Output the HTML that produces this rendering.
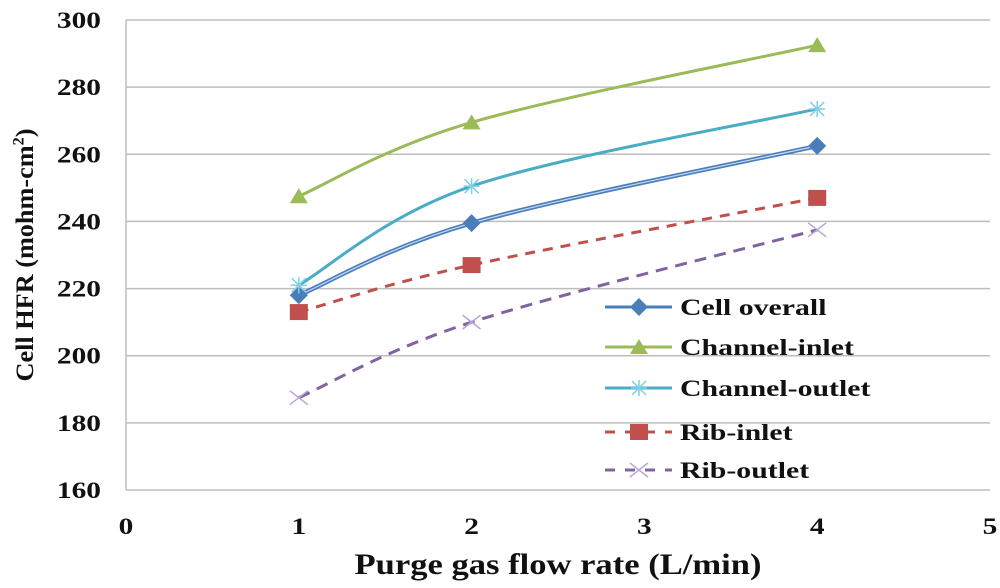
<!DOCTYPE html>
<html><head><meta charset="utf-8"><style>
html,body{margin:0;padding:0;background:#fff;}
svg text{font-family:"Liberation Serif",serif;font-weight:bold;fill:#111;}
</style></head><body>
<svg id="chart" width="1000" height="583" viewBox="0 0 1000 583" xmlns="http://www.w3.org/2000/svg">
<g id="grid"></g><g id="axes"></g><g id="series"></g><g id="legend"></g>
<text transform="translate(558,574) scale(1.28,1.1)" text-anchor="middle" font-size="27">Purge gas flow rate (L/min)</text>
<text transform="translate(33,255) rotate(-90) scale(1.25,1.2)" text-anchor="middle" font-size="21">Cell HFR (mohm-cm<tspan font-size="13" dy="-8">2</tspan><tspan dy="8">)</tspan></text>
</svg>
<script>
const xs=[1,2,4];
const cellOverall=[218,239.5,262.5];
const channelInlet=[247.5,269.5,292.5];
const channelOutlet=[221,250.5,273.5];
const ribInlet=[213,227,247];
const ribOutlet=[187.5,210,237.5];
const yTicks=[160,180,200,220,240,260,280,300];
const xTicks=[0,1,2,3,4,5];
const seriesNames=["Cell overall","Channel-inlet","Channel-outlet","Rib-inlet","Rib-outlet"];

const NS="http://www.w3.org/2000/svg";
const X=v=>126+(v-0)*(990-126)/5;
const Y=v=>490-(v-160)*(490-20)/140;
function mk(tag,attrs,parent){const e=document.createElementNS(NS,tag);for(const k in attrs)e.setAttribute(k,attrs[k]);parent.appendChild(e);return e;}
const grid=document.getElementById('grid'),axes=document.getElementById('axes'),ser=document.getElementById('series'),leg=document.getElementById('legend');
yTicks.forEach(t=>{
 const l=mk('line',{x1:X(0),x2:X(5),y1:Y(t),y2:Y(t),stroke:'#bdbdbd','stroke-width':1.5},grid);
 
 
 const tx=mk('text',{transform:`translate(101,${Y(t)+8}) scale(1.4,1.1)`,'text-anchor':'end','font-size':21},axes);tx.textContent=t;
 
 
});
const ax=mk('line',{x1:X(0),x2:X(0),y1:Y(300),y2:Y(160),stroke:'#bdbdbd','stroke-width':1.5},axes);


xTicks.forEach(t=>{
 const tx=mk('text',{transform:`translate(${X(t)},534) scale(1.4,1.1)`,'text-anchor':'middle','font-size':21},axes);tx.textContent=t;
 
 
});
function smoothPath(pts){
 let d='M'+pts[0][0]+','+pts[0][1];
 for(let i=0;i<pts.length-1;i++){
  const p0=pts[i-1]||pts[i],p1=pts[i],p2=pts[i+1],p3=pts[i+2]||p2;
  const t=0.17;
  const c1=[p1[0]+(p2[0]-p0[0])*t,p1[1]+(p2[1]-p0[1])*t];
  const c2=[p2[0]-(p3[0]-p1[0])*t,p2[1]-(p3[1]-p1[1])*t];
  d+=' C'+c1+' '+c2+' '+p2;
 }
 return d;
}
function marker(type,x,y,color,parent){
 let e;
 if(type==='diamond')e=mk('path',{d:`M${x},${y-9}L${x+9},${y}L${x},${y+9}L${x-9},${y}Z`,fill:'#4a7ebb'},parent);
 else if(type==='tri')e=mk('path',{d:`M${x},${y-8}L${x+9},${y+7}L${x-9},${y+7}Z`,fill:'#9bbb59'},parent);
 else if(type==='star')e=mk('path',{d:`M${x-8},${y}H${x+8}M${x},${y-8}V${y+8}M${x-7},${y-7}L${x+7},${y+7}M${x-7},${y+7}L${x+7},${y-7}`,stroke:'#7fd0e6','stroke-width':1.5},parent);
 else if(type==='square')e=mk('rect',{x:x-9,y:y-8,width:18,height:16,fill:'#c0504d'},parent);
 else e=mk('path',{d:`M${x-9},${y-7}L${x+9},${y+7}M${x-9},${y+7}L${x+9},${y-7}`,stroke:'#b9a6d6','stroke-width':1.5},parent);
 return e;
}
const defs=[
 {data:cellOverall,color:'#4a7ebb',dash:null,m:'diamond',w:4.5},
 {data:channelInlet,color:'#9bbb59',dash:null,m:'tri',w:3},
 {data:channelOutlet,color:'#4bacc6',dash:null,m:'star',w:3},
 {data:ribInlet,color:'#c0504d',dash:'10,8',m:'square',w:3},
 {data:ribOutlet,color:'#8064a2',dash:'12,8',m:'x',w:3}
];
defs.forEach((s,i)=>{
 const g=mk('g',{},ser);
 
 
 const pts=xs.map((x,j)=>[X(x),Y(s.data[j])]);
 const a={d:smoothPath(pts),fill:'none',stroke:s.color,'stroke-width':s.w};
 if(s.dash)a['stroke-dasharray']=s.dash;
 const p=mk('path',a,g);
 
 
 if(i===0){mk('path',{d:smoothPath(pts),fill:'none',stroke:'#c6d9f1','stroke-width':1.2},g);}
 pts.forEach((pt,j)=>{
  const m=marker(s.m,pt[0],pt[1],s.color,g);
  
  
 });
});
const legY=[307,347,388,432,470];
defs.forEach((s,i)=>{
 const g=mk('g',{},leg);
 
 
 const a={x1:605,x2:672,y1:legY[i],y2:legY[i],stroke:s.color,'stroke-width':3};
 if(s.dash){a['stroke-dasharray']='10,10';}
 mk('line',a,g);
 marker(s.m,639,legY[i],s.color,g);
 const t=mk('text',{transform:`translate(680,${legY[i]+8}) scale(1.42,1.1)`,'font-size':21},g);t.textContent=seriesNames[i];
});
</script>
</body></html>
